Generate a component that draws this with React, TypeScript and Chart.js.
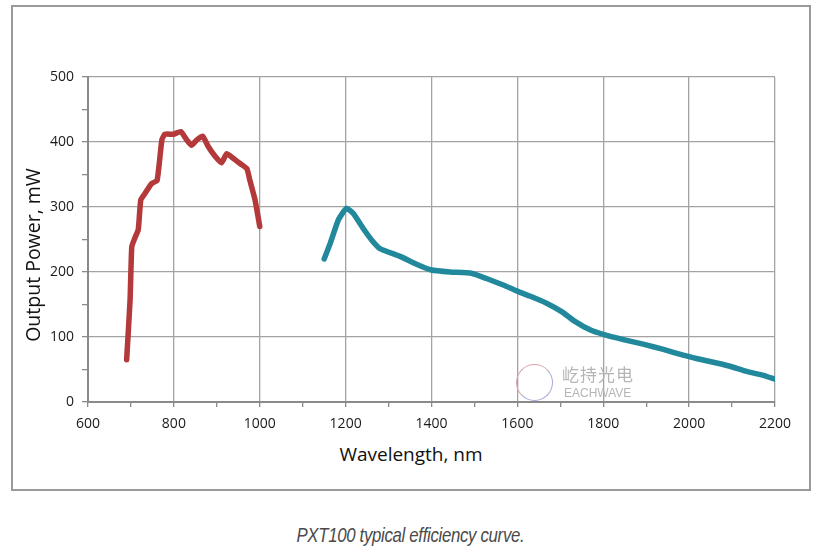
import React, { useEffect, useRef } from "react";
import { Chart, registerables } from "chart.js";

Chart.register(...registerables);

// ---- data ----
const redWavelength = [690, 698, 702, 709, 717, 723, 733, 748, 761, 772, 779, 799, 816, 830, 841, 853, 867, 880, 896, 911, 923, 938, 954, 970, 977, 989, 1000];
const redPower = [65, 157, 239, 252, 265, 311, 321, 336, 341, 403, 412, 412, 416, 403, 395, 403, 409, 393, 378, 368, 382, 375, 367, 359, 341, 311, 270];

const tealWavelength = [1150, 1164, 1183, 1202, 1218, 1241, 1261, 1280, 1327, 1365, 1400, 1443, 1493, 1528, 1567, 1598, 1629, 1668, 1703, 1734, 1769, 1800, 1847, 1893, 1940, 1986, 2017, 2064, 2095, 2134, 2173, 2200];
const tealPower = [220, 244, 280, 298, 290, 267, 249, 236, 224, 212, 203, 200, 198, 190, 180, 171, 163, 152, 139, 124, 111, 104, 96, 89, 81, 72, 67, 60, 55, 47, 41, 35];

const xMin = 600;
const xMax = 2200;
const xMajor = 200;
const xMinor = 100;
const yMin = 0;
const yMax = 500;
const yMajor = 100;
const yMinor = 50;

const xTitle = "Wavelength, nm";
const yTitle = "Output Power, mW";
const caption = "PXT100 typical efficiency curve.";

const toPoints = (xs: number[], ys: number[]) => xs.map((x, i) => ({ x, y: ys[i] }));

export default function App() {
  const canvasRef = useRef<HTMLCanvasElement | null>(null);

  useEffect(() => {
    if (!canvasRef.current) return;
    const tickFont = { family: "'Open Sans', 'DejaVu Sans', sans-serif", size: 14 };
    const chart = new Chart(canvasRef.current, {
      type: "scatter",
      data: {
        datasets: [
          {
            data: toPoints(redWavelength, redPower),
            showLine: true,
            borderColor: "#b3393a",
            backgroundColor: "#b3393a",
            borderWidth: 5.5,
            pointRadius: 0,
            tension: 0.15,
            borderJoinStyle: "round",
            borderCapStyle: "round",
          },
          {
            data: toPoints(tealWavelength, tealPower),
            showLine: true,
            borderColor: "#21899b",
            backgroundColor: "#21899b",
            borderWidth: 5.5,
            pointRadius: 0,
            tension: 0.15,
            borderJoinStyle: "round",
            borderCapStyle: "round",
          },
        ],
      },
      options: {
        animation: false,
        responsive: false,
        layout: { padding: { top: 77, right: 46, bottom: 0, left: 0 } },
        plugins: { legend: { display: false }, tooltip: { enabled: false } },
        scales: {
          x: {
            type: "linear",
            min: xMin,
            max: xMax,
            afterFit: (s: any) => {
              s.height = 38;
            },
            afterBuildTicks: (s: any) => {
              const t = [];
              for (let v = xMin; v <= xMax; v += xMinor) t.push({ value: v });
              s.ticks = t;
            },
            ticks: {
              stepSize: xMinor,
              color: "#1a1a1a",
              font: tickFont,
              padding: 9,
              maxRotation: 0,
              autoSkip: false,
              callback: (v: any) => (Number(v) % xMajor === 0 ? String(v) : ""),
            },
            grid: {
              color: (ctx: any) => (ctx.tick && ctx.tick.value % xMajor === 0 ? "#a3a3a3" : "rgba(0,0,0,0)"),
              tickColor: "#8a8a8a",
              tickLength: 5,
              lineWidth: 1.3,
            },
            border: { color: "#8a8a8a", width: 2 },
          },
          y: {
            type: "linear",
            min: yMin,
            max: yMax,
            afterFit: (s: any) => {
              s.width = 88;
            },
            afterBuildTicks: (s: any) => {
              const t = [];
              for (let v = yMin; v <= yMax; v += yMinor) t.push({ value: v });
              s.ticks = t;
            },
            ticks: {
              stepSize: yMinor,
              color: "#1a1a1a",
              font: tickFont,
              padding: 8,
              autoSkip: false,
              callback: (v: any) => (Number(v) % yMajor === 0 ? String(v) : ""),
            },
            grid: {
              color: (ctx: any) => (ctx.tick && ctx.tick.value % yMajor === 0 ? "#a3a3a3" : "rgba(0,0,0,0)"),
              tickColor: "#8a8a8a",
              tickLength: 6,
              lineWidth: 1.3,
            },
            border: { color: "#8a8a8a", width: 2 },
          },
        },
      },
    } as any);
    return () => chart.destroy();
  }, []);

  return (
    <div
      style={{
        position: "absolute",
        left: 0,
        top: 0,
        width: 821,
        height: 552,
        overflow: "hidden",
        background: "#ffffff",
        fontFamily: "'Open Sans', 'DejaVu Sans', sans-serif",
      }}
    >
      <div
        style={{
          position: "absolute",
          left: 11,
          top: 5,
          width: 800,
          height: 486,
          border: "2px solid #9a9a9a",
          boxSizing: "border-box",
        }}
      />
      <canvas
        ref={canvasRef}
        width={821}
        height={440}
        style={{ position: "absolute", left: 0, top: 0, width: 821, height: 440 }}
      />
      {/* watermark */}
      <div
        style={{
          position: "absolute",
          left: 516,
          top: 364,
          width: 37,
          height: 37,
          borderRadius: "50%",
          borderTop: "1px solid #d9a3a8",
          borderLeft: "1px solid #d9a3a8",
          borderRight: "1px solid #a3a8d9",
          borderBottom: "1px solid #a3a8d9",
          boxSizing: "border-box",
        }}
      />
      <div
        style={{
          position: "absolute",
          left: 562,
          top: 364,
          fontFamily: "'Noto Sans CJK SC', sans-serif",
          fontSize: 17,
          lineHeight: "20px",
          color: "#b5b5b5",
          letterSpacing: 1,
        }}
      >
        屹持光电
      </div>
      <div
        style={{
          position: "absolute",
          left: 564,
          top: 386,
          fontFamily: "'Liberation Sans', Arial, sans-serif",
          fontSize: 12,
          lineHeight: "14px",
          color: "#b5b5b5",
        }}
      >
        EACHWAVE
      </div>
      {/* axis titles */}
      <div
        style={{
          position: "absolute",
          left: 311,
          width: 200,
          top: 441,
          textAlign: "center",
          fontSize: 19,
          lineHeight: "26px",
          color: "#111",
        }}
      >
        {xTitle}
      </div>
      <div
        style={{
          position: "absolute",
          left: 33 - 110,
          width: 220,
          top: 255 - 13,
          height: 26,
          textAlign: "center",
          fontSize: 19.5,
          lineHeight: "26px",
          color: "#111",
          transform: "rotate(-90deg)",
          transformOrigin: "center center",
        }}
      >
        {yTitle}
      </div>
      {/* caption */}
      <div
        style={{
          position: "absolute",
          left: 0,
          width: 821,
          top: 522,
          textAlign: "center",
        }}
      >
        <span
          style={{
            display: "inline-block",
            fontFamily: "'Liberation Sans', 'DejaVu Sans', sans-serif",
            fontStyle: "italic",
            fontSize: 21,
            lineHeight: "26px",
            color: "#4a4a4a",
            letterSpacing: -0.4,
            transform: "scaleX(0.8)",
            transformOrigin: "center center",
          }}
        >
          {caption}
        </span>
      </div>
    </div>
  );
}
